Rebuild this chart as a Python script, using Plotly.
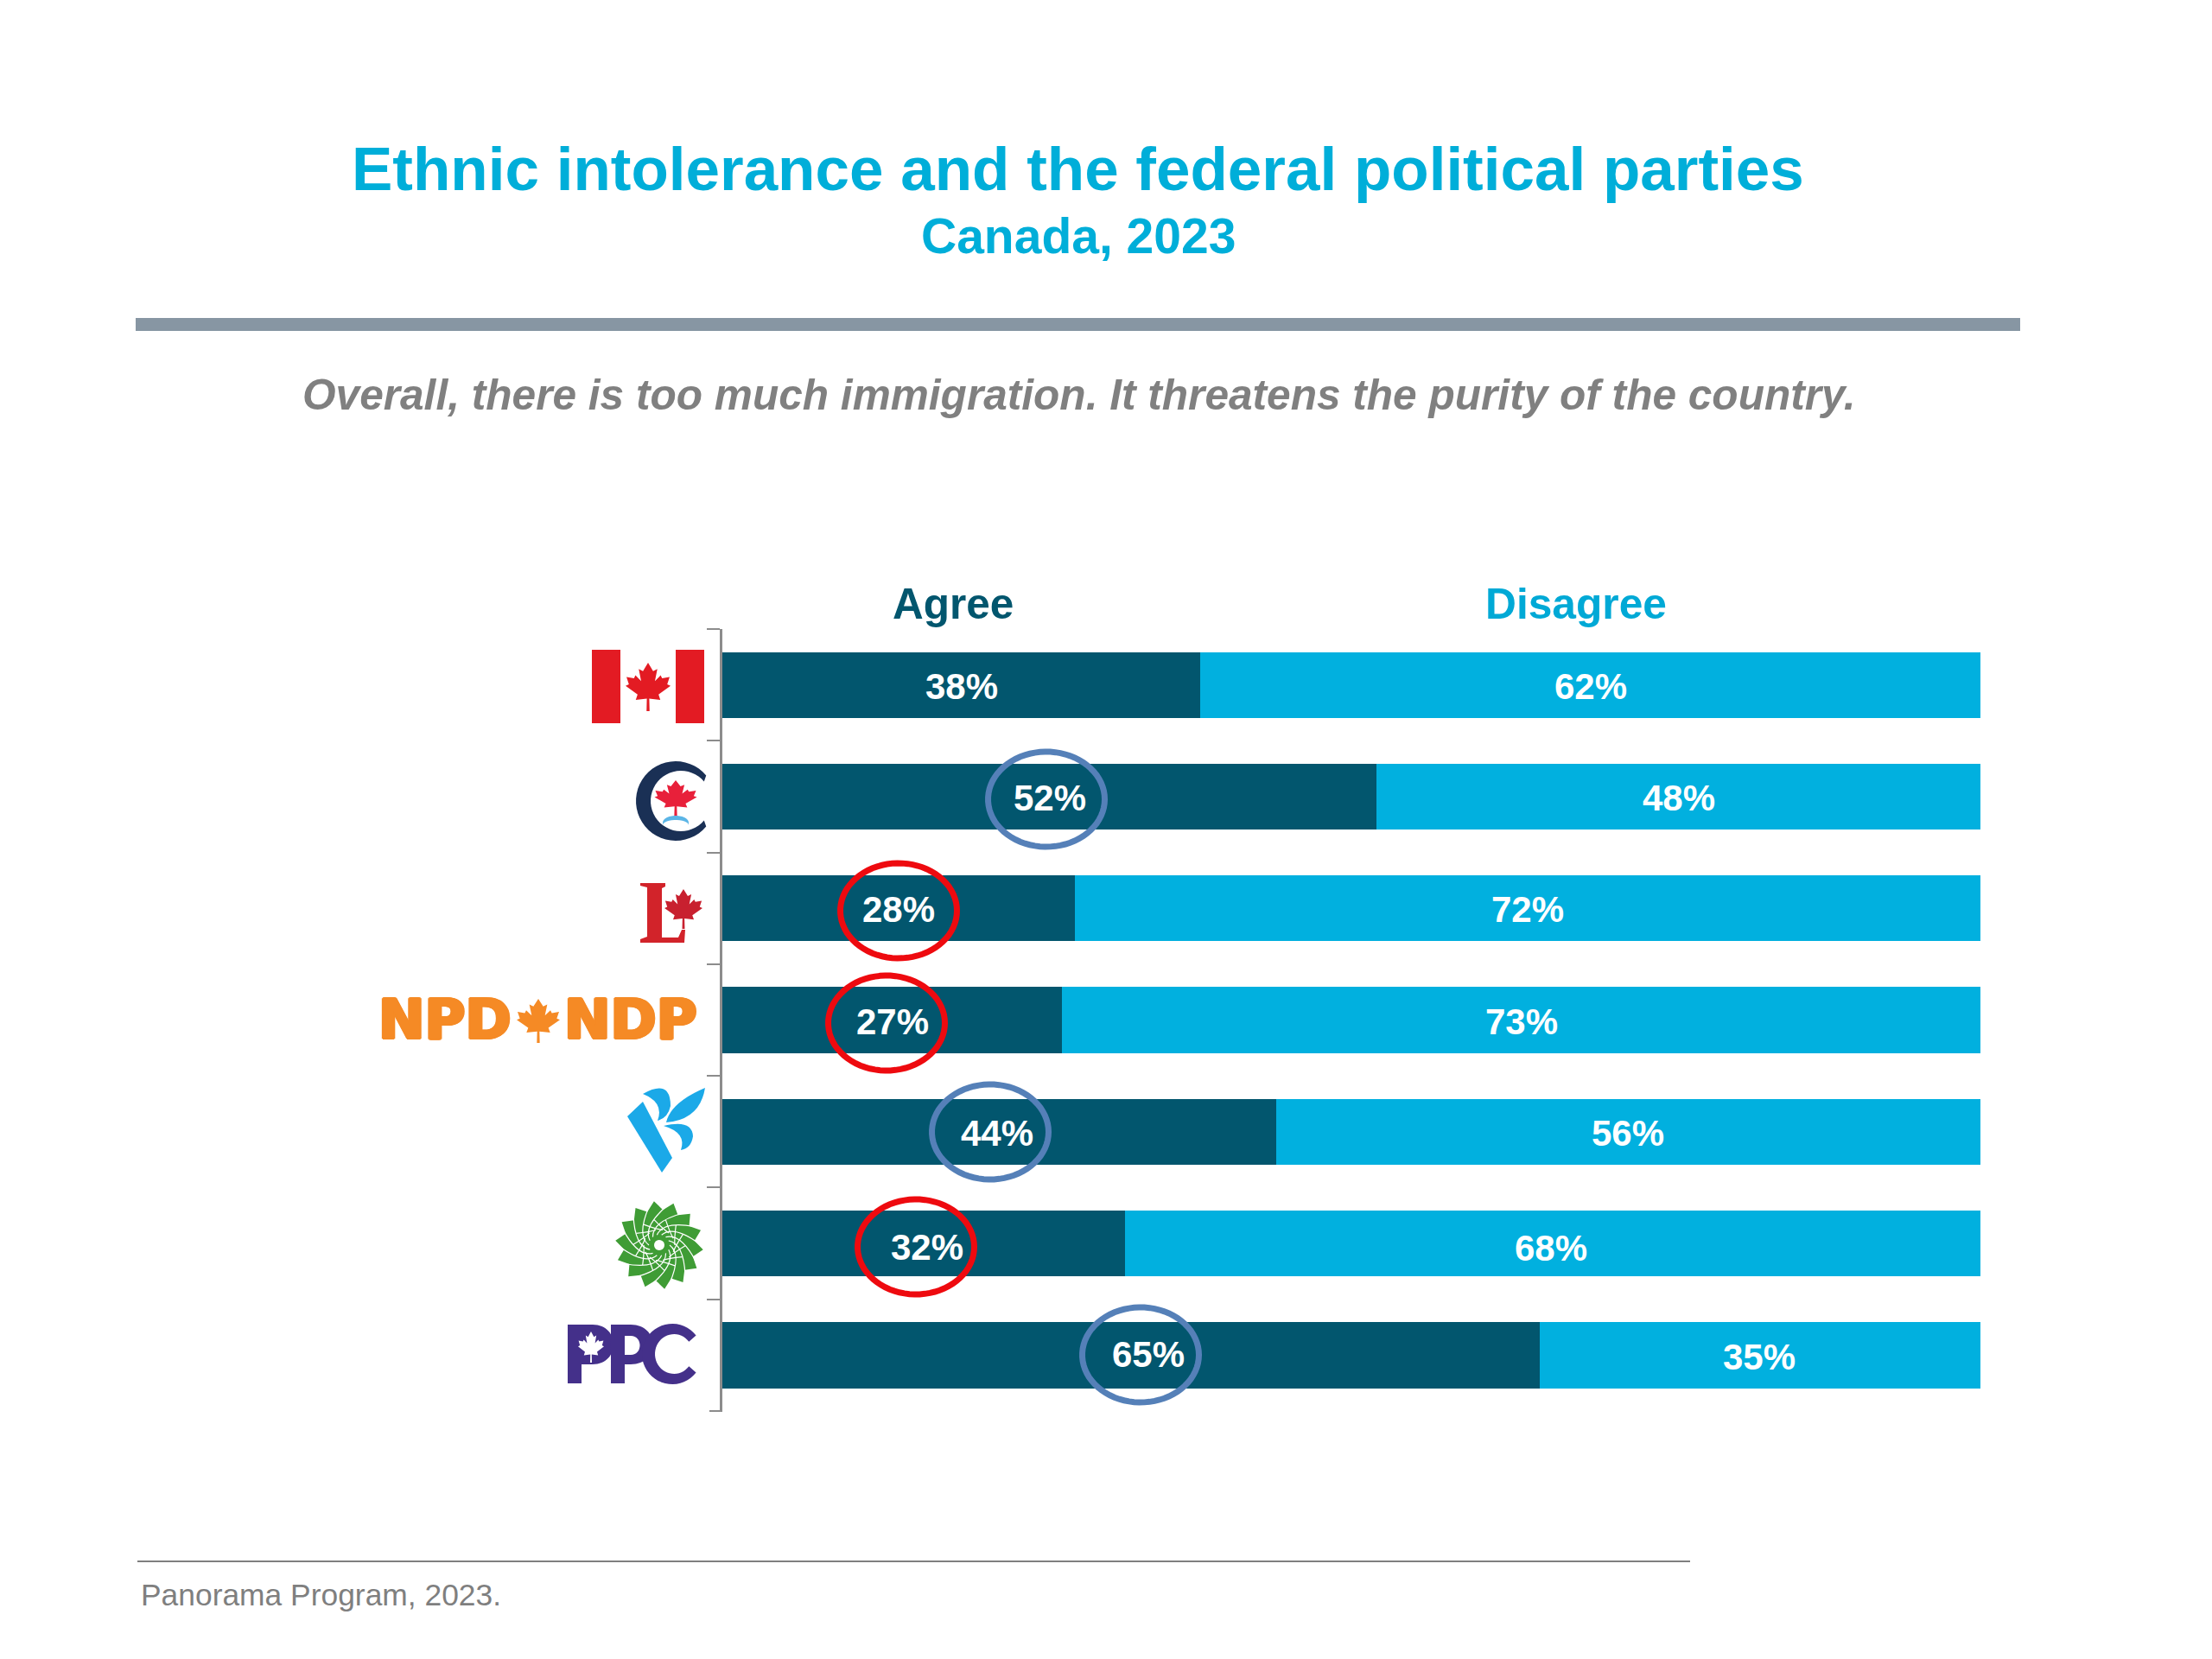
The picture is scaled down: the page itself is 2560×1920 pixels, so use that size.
import numpy as np
import plotly.graph_objects as go

# Data
parties = ['Canada', 'Conservative', 'Liberal', 'NDP', 'Bloc', 'Green', 'PPC']
agree = [38, 52, 28, 27, 44, 32, 65]
disagree = [62, 48, 72, 73, 56, 68, 35]
series_names = ['Agree', 'Disagree']

title_text = 'Ethnic intolerance and the federal political parties'
subtitle_text = 'Canada, 2023'
question_text = 'Overall, there is too much immigration. It threatens the purity of the country.'
source_text = 'Panorama Program, 2023.'

DARK = '#02566e'
LIGHT = '#01b0df'
TITLE_BLUE = '#00aed9'
GREY_BLUE = '#8796a3'
RED = '#ee0a0f'
RING_BLUE = '#5580b8'
AXIS_GREY = '#8c8c8c'
NDP_ORANGE = '#f58a25'
FONT = 'Liberation Sans'

# the page body has an 8px margin, so the figure is 16px smaller than the window
PAGE = 8
W, H = 2560 - 2 * PAGE, 1920 - 2 * PAGE

# label nudges in pixels (party: dx, dy) for labels that are not centred in their bar
LABEL_DY = 1.5
agree_nudge = {'Bloc': (-2, LABEL_DY), 'Green': (4, 4), 'PPC': (20, -1)}
disagree_nudge = {'Green': (-2, 5), 'PPC': (-1, 2)}

# rings around the labels: centre x, centre y, colour
rings = [(1211, 925, RING_BLUE), (1040, 1054, RED), (1026, 1184, RED),
         (1146, 1310, RING_BLUE), (1060, 1443, RED), (1320, 1568, RING_BLUE)]


# pixel position in the window to paper coordinates
def px(x):
    return (x - PAGE) / W


def py(y):
    return 1 - (y - PAGE) / H


def poly(points, close=True):
    d = 'M ' + ' L '.join(f'{px(x):.5f},{py(y):.5f}' for x, y in points)
    return d + (' Z' if close else '')


def fill_shape(path, color):
    return dict(type='path', xref='paper', yref='paper', path=path, fillcolor=color,
                line=dict(width=0), layer='above')


def rect(x0, y0, x1, y1, color):
    return fill_shape(poly([(x0, y0), (x1, y0), (x1, y1), (x0, y1)]), color)


LEAF_HALF = [(0.085, -0.345), (0.155, -0.385), (0.115, -0.16), (0.21, -0.265), (0.235, -0.21),
             (0.36, -0.235), (0.32, -0.10), (0.375, -0.07), (0.175, 0.09), (0.205, 0.19),
             (0.02, 0.165), (0.025, 0.40)]


def leaf(cx, top, w, h, color):
    pts = [(0, -0.5)] + LEAF_HALF + [(-u, v) for u, v in reversed(LEAF_HALF)]
    return fill_shape(poly([(cx + u / 0.75 * w, top + (v + 0.5) / 0.9 * h) for u, v in pts]), color)


def ellipse_pts(cx, cy, rx, ry, a0, a1, n=40):
    t = np.radians(np.linspace(a0, a1, n))
    return list(zip(cx + rx * np.cos(t), cy + ry * np.sin(t)))


def bez(d):
    # d is a list of commands with window pixel pairs
    out = []
    for item in d:
        if isinstance(item, str):
            out.append(item)
        else:
            out.append(f'{px(item[0]):.5f},{py(item[1]):.5f}')
    return ' '.join(out)


def logo_shapes():
    s = []

    # flag
    s.append(rect(685, 752, 718, 837, '#e31b23'))
    s.append(rect(782, 752, 815, 837, '#e31b23'))
    s.append(leaf(750, 767, 52, 56, '#e31b23'))

    # conservative C
    s.append(fill_shape(poly(ellipse_pts(782, 927, 46, 46, -40, -320) +
                             ellipse_pts(788, 927, 35, 35, -320, -40)), '#1a3055'))
    s.append(leaf(782, 903, 49, 41, '#e8203a'))
    s.append(fill_shape(poly(ellipse_pts(782, 952, 15, 8, 180, 360, 16) +
                             ellipse_pts(782, 955, 15, 6, 360, 180, 16)), '#5bb5e6'))

    # liberal L
    s.append(fill_shape(poly([(741, 1022), (770, 1022), (770, 1026), (766, 1028), (766, 1085),
                              (785, 1085), (789, 1076), (793, 1076), (792, 1091), (741, 1091),
                              (741, 1087), (749, 1084), (749, 1027), (741, 1025)]), '#d2232a'))
    s.append(leaf(791, 1029, 44, 46, '#c8202f'))

    # NDP leaf
    s.append(leaf(623, 1156, 50, 51, NDP_ORANGE))

    # bloc
    bloc = '#1ba9e8'
    s.append(fill_shape(poly([(726, 1292), (744, 1275), (778, 1340), (766, 1357)]), bloc))
    s.append(fill_shape(bez(['M', (744, 1266), 'Q', (776, 1248), (776, 1280), 'Q', (773, 1294), (761, 1297),
                             'Q', (769, 1276), (744, 1266), 'Z']), bloc))
    s.append(fill_shape(bez(['M', (816, 1259), 'Q', (810, 1296), (771, 1299), 'Q', (776, 1276), (816, 1259), 'Z']), bloc))
    s.append(fill_shape(bez(['M', (768, 1303), 'Q', (801, 1295), (802, 1315), 'Q', (800, 1329), (788, 1331),
                             'Q', (795, 1311), (768, 1303), 'Z']), bloc))

    # green flower
    cx, cy = 763, 1441
    green = '#3f9c35'
    t = np.radians(np.arange(0, 360, 360 / 28) + 6)
    r = np.where(np.arange(28) % 2 == 0, 51, 41)
    s.append(fill_shape(poly(list(zip(cx + r * np.cos(t), cy + r * np.sin(t)))), green))
    for a in np.arange(0, 360, 360 / 14):
        # long spiral lines one way, shorter ones the other way
        for sign, start, reach, turn in ((1, 12, 46, 75), (-1, 18, 30, 50)):
            a0, a1 = np.radians(a), np.radians(a + sign * turn)
            mid = np.radians(a + sign * 22)
            d = bez(['M', (cx + start * np.cos(a0), cy + start * np.sin(a0)),
                     'Q', (cx + reach * 0.62 * np.cos(mid), cy + reach * 0.62 * np.sin(mid)),
                     (cx + reach * np.cos(a1), cy + reach * np.sin(a1))])
            s.append(dict(type='path', xref='paper', yref='paper', path=d, layer='above',
                          line=dict(color='white', width=1.2)))
    s.append(fill_shape(poly(ellipse_pts(cx, cy, 6, 6, 0, 360, 20)), 'white'))

    # PPC
    purple = '#44308a'
    s.append(fill_shape(bez(['M', (657, 1533), 'L', (686, 1533), 'C', (718, 1533), (718, 1579), (686, 1579),
                             'L', (673, 1579), 'L', (673, 1601), 'L', (657, 1601), 'Z']), purple))
    s.append(leaf(684, 1541, 30, 36, 'white'))
    s.append(fill_shape(bez(['M', (707, 1533), 'L', (730, 1533), 'C', (764, 1533), (764, 1579), (730, 1579),
                             'L', (723, 1579), 'L', (723, 1601), 'L', (707, 1601), 'Z']), purple))
    s.append(fill_shape(bez(['M', (723, 1546), 'L', (730, 1546), 'C', (744, 1546), (744, 1568), (730, 1568),
                             'L', (723, 1568), 'Z']), 'white'))
    s.append(fill_shape(poly(ellipse_pts(778, 1567, 35, 35, -38, -322) +
                             ellipse_pts(780, 1567, 22, 23, -322, -38)), purple))
    return s


fig = go.Figure()
fig.add_bar(y=parties, x=agree, orientation='h', name=series_names[0], marker=dict(color=DARK, line=dict(width=0)))
fig.add_bar(y=parties, x=disagree, orientation='h', name=series_names[1], marker=dict(color=LIGHT, line=dict(width=0)))

annotations = []


def add_text(text, x, y, size, color, bold=False, italic=False, anchor='center', family=FONT, shadow=None):
    font = dict(family=family, size=size, color=color,
                weight='bold' if bold else 'normal',
                style='italic' if italic else 'normal')
    if shadow:
        font['shadow'] = shadow
    annotations.append(dict(text=text, xref='paper', yref='paper', x=px(x), y=py(y), showarrow=False,
                            xanchor=anchor, yanchor='middle', font=font))


# percent labels sit on the data axes
for i, party in enumerate(parties):
    dx, dy = agree_nudge.get(party, (0, LABEL_DY))
    annotations.append(dict(text=f'{agree[i]}%', xref='x', yref='y', x=agree[i] / 2, y=party,
                            xanchor='center', xshift=dx, yshift=-dy, showarrow=False,
                            font=dict(family=FONT, size=42, color='white', weight='bold')))
    dx, dy = disagree_nudge.get(party, (0, LABEL_DY))
    annotations.append(dict(text=f'{disagree[i]}%', xref='x', yref='y', x=agree[i] + disagree[i] / 2, y=party,
                            xanchor='center', xshift=dx, yshift=-dy, showarrow=False,
                            font=dict(family=FONT, size=42, color='white', weight='bold')))

add_text(title_text, 1247.5, 195.5, 71, TITLE_BLUE, bold=True)
add_text(subtitle_text, 1247.5, 272.5, 57, TITLE_BLUE, bold=True)
add_text(question_text, 1249, 457.5, 49.6, '#808080', bold=True, italic=True)
add_text(series_names[0], 1103, 698, 49.5, DARK, bold=True)
add_text(series_names[1], 1824, 699, 49.7, '#00a9d6', bold=True)
add_text(source_text, 161, 1846, 35.4, '#7f7f7f', anchor='left')

# logo wordmark, thickened to the weight of the party logo
heavy = ', '.join(f'{a}px {b}px 0 {NDP_ORANGE}' for a, b in [(2, 0), (-2, 0), (0, 1), (0, -1), (1, 1), (-1, -1), (1, -1), (-1, 1)])
add_text('NPD', 515, 1180, 64, NDP_ORANGE, bold=True, family='DejaVu Sans', shadow=heavy)
add_text('NDP', 730, 1180, 64, NDP_ORANGE, bold=True, family='DejaVu Sans', shadow=heavy)

shapes = [
    rect(157, 368, 2338, 383, GREY_BLUE),
    dict(type='line', xref='paper', yref='paper', x0=px(159), x1=px(1956), y0=py(1807), y1=py(1807),
         line=dict(color='#7f7f7f', width=2)),
    # closing tick at the bottom of the category axis
    dict(type='line', xref='paper', yref='paper', x0=px(821), x1=px(836), y0=py(1633), y1=py(1633),
         line=dict(color=AXIS_GREY, width=2)),
]
for cx, cy, color in rings:
    shapes.append(dict(type='path', xref='paper', yref='paper', layer='above',
                       path=poly(ellipse_pts(cx, cy, 67.5, 55, 0, 360, 72)),
                       line=dict(color=color, width=7)))
shapes += logo_shapes()

fig.update_layout(
    barmode='stack', bargap=0.41, showlegend=False,
    width=W, height=H, margin=dict(l=0, r=0, t=0, b=0),
    paper_bgcolor='white', plot_bgcolor='white',
    annotations=annotations, shapes=shapes,
    xaxis=dict(domain=[px(836), px(2292)], range=[0, 100], visible=False),
    yaxis=dict(domain=[py(1633), py(728)], type='category', categoryorder='array', categoryarray=parties,
               range=[6.5, -0.5], showticklabels=False, ticks='outside', tickson='boundaries', ticklen=15,
               tickwidth=2, tickcolor=AXIS_GREY, showline=True, linecolor=AXIS_GREY, linewidth=3,
               showgrid=False, zeroline=False),
)

fig.write_html("out.html")
